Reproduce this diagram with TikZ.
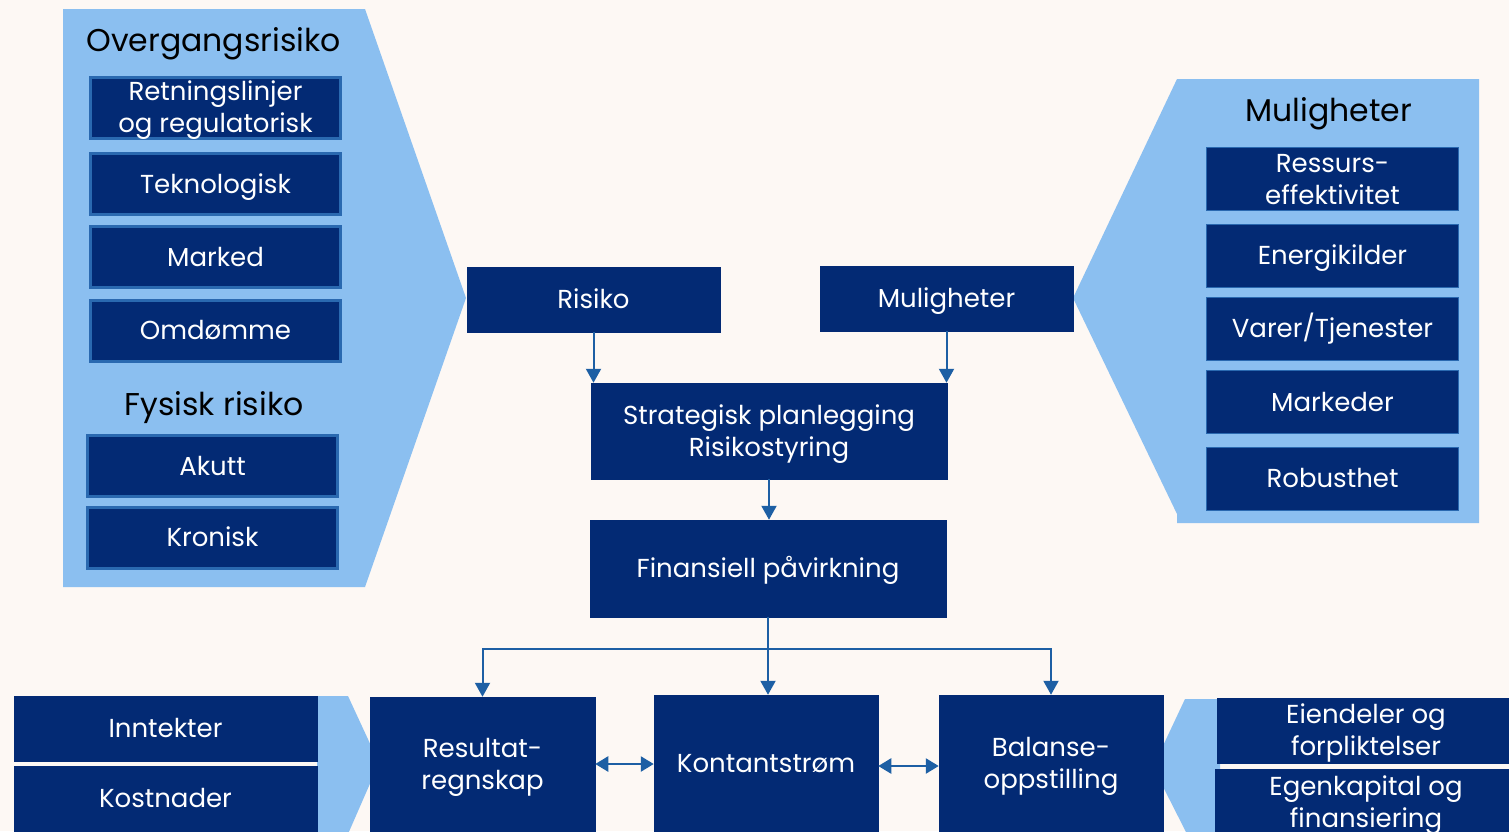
\documentclass[tikz,border=0pt]{standalone}
\usepackage{fontspec}
\setmainfont{Poppins}
\usetikzlibrary{arrows.meta}
\definecolor{cream}{HTML}{FDF8F4}
\definecolor{lightblue}{HTML}{8BBFF0}
\definecolor{navy}{HTML}{032A74}
\definecolor{midblue}{HTML}{2A69B0}
\definecolor{arrowblue}{HTML}{1D5FA4}
\begin{document}
\begin{tikzpicture}[x=1pt,y=-1pt,
  boxtext/.style={text=white,font=\fontsize{26}{32}\selectfont,align=center,inner sep=0pt,text height=18.5pt,text depth=0pt},
  twolines/.style={text height=50.5pt},
  lbox/.style={boxtext,fill=navy,draw=midblue,line width=3pt,minimum width=250pt,minimum height=61pt},
  rbox/.style={boxtext,fill=navy,draw=midblue,line width=0.8pt,minimum width=252pt,minimum height=63pt},
  cbox/.style={boxtext,fill=navy,draw=navy,line width=0.5pt},
  title/.style={text=black,font=\fontsize{31.5}{38}\selectfont,inner sep=0pt,anchor=base},
  panel/.style={fill=lightblue,draw=none},
  arr/.style={draw=arrowblue,line width=2pt,-{Triangle[width=15pt,length=14pt]}},
  darr/.style={draw=arrowblue,line width=2.5pt,{Triangle[width=15pt,length=13pt]}-{Triangle[width=15pt,length=13pt]}}
]
\useasboundingbox (0,0) rectangle (1509,831);
\clip (0,0) rectangle (1509,831);
\fill[cream] (0,0) rectangle (1509,831);

% panels
\path[panel] (63,9) -- (365,9) -- (466,298) -- (365,587) -- (63,587) -- cycle;
\path[panel] (1479,79) -- (1177,79) -- (1073,298) -- (1177,514) -- (1177,523) -- (1479,523) -- cycle;
\path[panel] (317,696) -- (348,696) -- (379,763) -- (348,834) -- (317,834) -- cycle;
\path[panel] (1220,699) -- (1185,699) -- (1153,767) -- (1187,834) -- (1220,834) -- cycle;

% left panel
\node[title] (tover) at (213.5,51) {Overgangsrisiko};
\node[lbox,twolines] (ret) at (215.5,107.5) {Retningslinjer\\og regulatorisk};
\node[lbox] (tek) at (215.5,184) {Teknologisk};
\node[lbox] (mar) at (215.5,257) {Marked};
\node[lbox] (omd) at (215.5,330.5) {Omdømme};
\node[title] (tfys) at (214,415) {Fysisk risiko};
\node[lbox] (aku) at (212.5,466) {Akutt};
\node[lbox] (kro) at (212.5,537.5) {Kronisk};

% right panel
\node[title] (tmul) at (1328.5,121) {Muligheter};
\node[rbox,twolines] (res) at (1332.5,179) {Ressurs-\\effektivitet};
\node[rbox] (ene) at (1332.5,255.5) {Energikilder};
\node[rbox] (var) at (1332.5,328.5) {Varer/Tjenester};
\node[rbox] (mkd) at (1332.5,402) {Markeder};
\node[rbox] (rob) at (1332.5,478.5) {Robusthet};

% centre
\node[cbox,minimum width=253pt,minimum height=65pt] (risiko) at (593.5,299.5) {Risiko};
\node[cbox,minimum width=253pt,minimum height=65pt] (mulig) at (946.5,298.5) {Muligheter};
\node[cbox,twolines,minimum width=356pt,minimum height=96pt] (strat) at (769,431) {Strategisk planlegging\\Risikostyring};
\node[cbox,minimum width=356pt,minimum height=97pt] (fin) at (768,568.5) {Finansiell påvirkning};

% bottom
\node[cbox,minimum width=303pt,minimum height=65pt] (inn) at (165.5,728.5) {Inntekter};
\node[cbox,minimum width=303pt,minimum height=65pt] (kost) at (165.5,798.5) {Kostnader};
\node[cbox,twolines,minimum width=225pt,minimum height=134pt] (resu) at (482.5,764) {Resultat-\\regnskap};
\node[cbox,minimum width=224pt,minimum height=136pt] (kont) at (766,763) {Kontantstrøm};
\node[cbox,twolines,minimum width=224pt,minimum height=136pt] (bal) at (1051,763) {Balanse-\\oppstilling};
\node[cbox,twolines,minimum width=298pt,minimum height=65pt] (eien) at (1366,730.5) {Eiendeler og\\forpliktelser};
\node[cbox,twolines,minimum width=302pt,minimum height=67pt] (egen) at (1366,802.5) {Egenkapital og\\finansiering};

% connectors
\draw[arr] (risiko.south) -- (risiko.south |- strat.north);
\draw[arr] (mulig.south) -- (mulig.south |- strat.north);
\draw[arr] (strat.south) -- (strat.south |- fin.north);
\coordinate (bus) at (768,649);
\draw[arr] (fin.south) -- (fin.south |- kont.north);
\draw[arr] (bus) -| (resu.north);
\draw[arr] (bus) -| (bal.north);
\draw[darr] (resu.east) -- (resu.east -| kont.west);
\coordinate (kb) at (878,766);
\draw[darr] (kont.east |- kb) -- (bal.west |- kb);
\end{tikzpicture}
\end{document}
